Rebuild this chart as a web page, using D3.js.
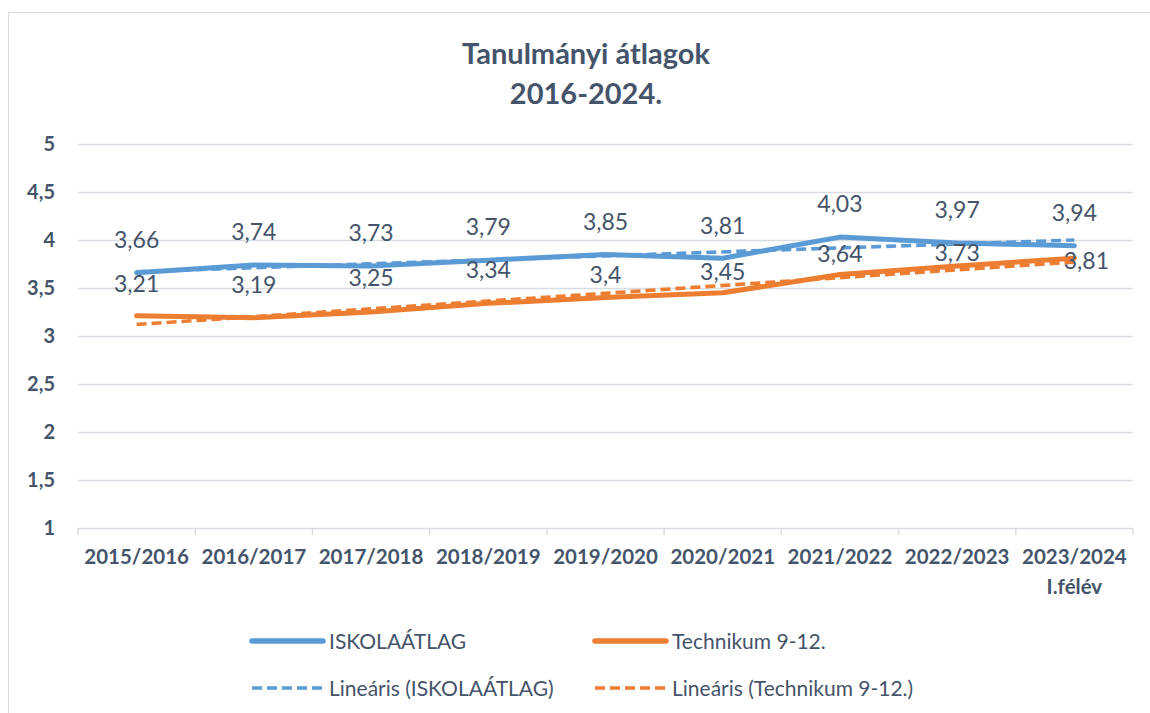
<!DOCTYPE html>
<html>
<head>
<meta charset="utf-8">
<script src="https://cdn.jsdelivr.net/npm/d3@7"></script>
<style>
  html, body { margin: 0; padding: 0; background: #fff; }
  svg { display: block; }
  text { font-family: Lato, "Noto Sans", sans-serif; }
</style>
</head>
<body>
<svg id="chart" width="1150" height="713"></svg>
<script>
// ---- data ----
const categories = ["2015/2016", "2016/2017", "2017/2018", "2018/2019", "2019/2020",
                    "2020/2021", "2021/2022", "2022/2023", "2023/2024\nI.félév"];
const iskolaAtlag = [3.66, 3.74, 3.73, 3.79, 3.85, 3.81, 4.03, 3.97, 3.94];
const technikum   = [3.21, 3.19, 3.25, 3.34, 3.4, 3.45, 3.64, 3.73, 3.81];
// linear trend lines (start / end values)
const trendIskola    = [3.67, 4.00];
const trendTechnikum = [3.12, 3.77];
const yTicks = [1, 1.5, 2, 2.5, 3, 3.5, 4, 4.5, 5];
const seriesNames = ["ISKOLAÁTLAG", "Technikum 9-12.", "Lineáris (ISKOLAÁTLAG)", "Lineáris (Technikum 9-12.)"];
const titleLines = ["Tanulmányi átlagok", "2016-2024."];

// ---- layout / style ----
const blue = "#5B9BD5", orange = "#ED7D31", textCol = "#44546A", grid = "#D9DDE3";
// data label offsets in px (label placement as in the original)
const labelDyBlue   = [-33, -33, -33, -33, -33, -33, -33, -33, -33];
const labelDyOrange = [-32, -33, -34, -34, -23, -21, -21, -13, 2];
const labelDxOrange = [0, 0, 0, 0, 0, 0, 0, 0, 12];

const svg = d3.select("#chart");
const fmt = v => String(v).replace(".", ",");

// outer border
svg.append("rect").attr("x", 8.5).attr("y", 12.5).attr("width", 1160).attr("height", 720)
  .attr("fill", "none").attr("stroke", grid).attr("stroke-width", 1);

// title
svg.append("g").selectAll("text").data(titleLines).join("text")
  .attr("x", 586).attr("y", (d, i) => 64 + i * 40)
  .attr("text-anchor", "middle").attr("font-size", 29).attr("font-weight", 700)
  .attr("fill", textCol).text(d => d);

const x = d3.scaleBand().domain(categories).range([78, 1133]).padding(0);
const y = d3.scaleLinear().domain([1, 5]).range([528, 144]);
const cx = (i) => x(categories[i]) + x.bandwidth() / 2;

// gridlines
svg.append("g").selectAll("line").data(yTicks.filter(t => t > 1)).join("line")
  .attr("x1", 78).attr("x2", 1133).attr("y1", d => y(d) + 0.5).attr("y2", d => y(d) + 0.5)
  .attr("stroke", grid).attr("stroke-width", 1.3);

// y axis labels
const yAxis = d3.axisLeft(y).tickValues(yTicks).tickFormat(fmt).tickSize(0).tickPadding(0);
const yg = svg.append("g").attr("transform", "translate(55,0)").call(yAxis);
yg.select(".domain").remove();
yg.selectAll("text").attr("font-size", 20).attr("font-weight", 700).attr("fill", textCol)
  .attr("font-family", "Lato, sans-serif");

// x axis
const xAxis = d3.axisBottom(x).tickSize(0).tickFormat(() => "");
const xg = svg.append("g").attr("transform", "translate(0,528)").call(xAxis);
xg.select(".domain").attr("stroke", grid).attr("stroke-width", 1.5).attr("d", "M78,0.5H1133");
// category boundary ticks
const bounds = categories.map(c => x(c)).concat([x(categories[categories.length - 1]) + x.bandwidth()]);
xg.append("g").selectAll("line").data(bounds).join("line")
  .attr("x1", d => d).attr("x2", d => d).attr("y1", 0).attr("y2", 7)
  .attr("stroke", grid).attr("stroke-width", 1.5);
// category labels
xg.selectAll(".tick").each(function(d) {
  const t = d3.select(this);
  t.selectAll("text").remove();
  const lines = d.split("\n");
  const txt = t.append("text").attr("text-anchor", "middle").attr("fill", textCol)
    .attr("font-size", 20.5).attr("font-weight", 700).attr("font-family", "Lato, sans-serif");
  lines.forEach((ln, i) => txt.append("tspan").attr("x", 0).attr("y", 36 + i * 30).text(ln));
});

// series lines
const line = d3.line().x((d, i) => cx(i)).y(d => y(d));
svg.append("path").datum(technikum).attr("d", line)
  .attr("fill", "none").attr("stroke", orange).attr("stroke-width", 5).attr("stroke-linecap", "round").attr("stroke-linejoin", "round");
svg.append("path").datum(iskolaAtlag).attr("d", line)
  .attr("fill", "none").attr("stroke", blue).attr("stroke-width", 5).attr("stroke-linecap", "round").attr("stroke-linejoin", "round");

// trend lines
const trendLine = d3.line().x((d, i) => i === 0 ? cx(0) : cx(categories.length - 1)).y(d => y(d));
svg.append("path").datum(trendTechnikum).attr("d", trendLine)
  .attr("fill", "none").attr("stroke", orange).attr("stroke-width", 3.6).attr("stroke-dasharray", "10,5");
svg.append("path").datum(trendIskola).attr("d", trendLine)
  .attr("fill", "none").attr("stroke", blue).attr("stroke-width", 3.6).attr("stroke-dasharray", "10,5");

// data labels
svg.append("g").selectAll("text").data(iskolaAtlag).join("text")
  .attr("x", (d, i) => cx(i)).attr("y", (d, i) => y(d) + labelDyBlue[i])
  .attr("dy", "0.36em").attr("text-anchor", "middle").attr("font-size", 23).attr("fill", textCol)
  .text(fmt);
svg.append("g").selectAll("text").data(technikum).join("text")
  .attr("x", (d, i) => cx(i) + labelDxOrange[i]).attr("y", (d, i) => y(d) + labelDyOrange[i])
  .attr("dy", "0.36em").attr("text-anchor", "middle").attr("font-size", 23).attr("fill", textCol)
  .text(fmt);

// legend
const legendItems = [
  { name: seriesNames[0], color: blue,   dash: null,   x: 252, y: 641 },
  { name: seriesNames[1], color: orange, dash: null,   x: 595, y: 641 },
  { name: seriesNames[2], color: blue,   dash: "10,5", x: 252, y: 688 },
  { name: seriesNames[3], color: orange, dash: "10,5", x: 595, y: 688 }
];
const lg = svg.append("g").selectAll("g").data(legendItems).join("g")
  .attr("transform", d => `translate(${d.x},${d.y})`);
lg.append("line").attr("x1", 0).attr("x2", 71).attr("y1", 0).attr("y2", 0)
  .attr("stroke", d => d.color)
  .attr("stroke-width", d => d.dash ? 3.6 : 5.5)
  .attr("stroke-linecap", d => d.dash ? "butt" : "round")
  .attr("stroke-dasharray", d => d.dash);
lg.append("text").attr("x", 77).attr("y", 0).attr("dy", "0.36em")
  .attr("font-size", 21).attr("fill", textCol).text(d => d.name);
</script>
</body>
</html>
